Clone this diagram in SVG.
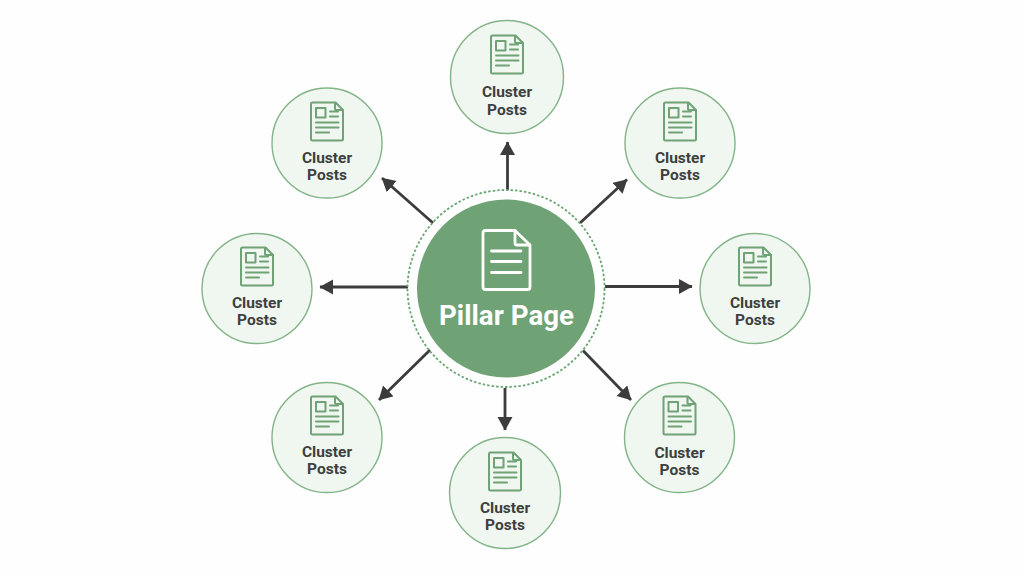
<svg xmlns="http://www.w3.org/2000/svg" width="1024" height="576" viewBox="0 0 1024 576">
<style>
.bubble{fill:#f0f6f0;stroke:#82b487;stroke-width:1.4}
.ico{fill:none;stroke:#6fa274;stroke-width:2;stroke-linejoin:round;stroke-linecap:round}
.lbl{font-family:Roboto,"Liberation Sans",sans-serif;font-weight:700;font-size:15.5px;fill:#3d3f3e;text-anchor:middle}
.conn{stroke:#3c3c3c;stroke-width:2.800;fill:none;marker-end:url(#arr)}
.big{stroke:#fff;stroke-width:2.800;fill:none;stroke-linecap:round;stroke-linejoin:round}
</style>
<defs>
<marker id="arr" markerUnits="userSpaceOnUse" markerWidth="16" markerHeight="16" refX="13" refY="7.500" orient="auto"><path d="M0 0L13.500 7.500L0 15Z" fill="#3c3c3c"/></marker>
<g id="doc">
<path class="ico" d="M-16 -27a1.500 1.500 0 0 1 1.500 -1.500H8.500L16 -21V8a1.500 1.500 0 0 1 -1.500 1.500H-14.500a1.500 1.500 0 0 1 -1.500 -1.500Z"/>
<path class="ico" d="M8 -28V-22a1 1 0 0 0 1 1H15.500"/>
<rect class="ico" x="-11" y="-23" width="9.500" height="9.500"/>
<path class="ico" d="M3 -19.500H11M3 -14.500H11M-11 -8.500H11.500M-11 -3.500H11.500M-11 1.500H2"/>
</g>
</defs>
<rect width="1024" height="576" fill="#fefefe"/>
<g id="connectors">
<path class="conn" d="M507.500 190V142"/>
<path class="conn" d="M580 223L627 179.500"/>
<path class="conn" d="M605 286.500H692"/>
<path class="conn" d="M583 350.500L631 400"/>
<path class="conn" d="M505 388V430"/>
<path class="conn" d="M430 350L379 400"/>
<path class="conn" d="M408 287H320"/>
<path class="conn" d="M433 223L382 178"/>
</g>
<g id="pillar">
<circle cx="506" cy="288.500" r="98.500" fill="none" stroke="#6aa673" stroke-width="1.800" stroke-dasharray="2.500 2"/>
<circle cx="506" cy="288.500" r="89" fill="#6fa274"/>
<path class="big" d="M483 233a2.500 2.500 0 0 1 2.500 -2.500H515L530 245V287a2.500 2.500 0 0 1 -2.500 2.500H485.500a2.500 2.500 0 0 1 -2.500 -2.500Z"/>
<path class="big" d="M515 231V243a2 2 0 0 0 2 2H529.500"/>
<path class="big" d="M491.500 251H521M491.500 261.500H521M491.500 272.500H521"/>
<text x="506.500" y="325" text-anchor="middle" font-family="Roboto,'Liberation Sans',sans-serif" font-weight="700" font-size="27.700px" fill="#fff">Pillar Page</text>
</g>
<g id="n-top"><circle class="bubble" cx="507" cy="77" r="56.500"/><use href="#doc" x="507" y="64"/><text class="lbl" x="507" y="96.500">Cluster</text><text class="lbl" x="507" y="114.500">Posts</text></g>
<g id="n-top-right"><circle class="bubble" cx="680" cy="143" r="55"/><use href="#doc" x="680" y="131"/><text class="lbl" x="680" y="162.500">Cluster</text><text class="lbl" x="680" y="179.500">Posts</text></g>
<g id="n-right"><circle class="bubble" cx="755" cy="288.500" r="55"/><use href="#doc" x="755" y="276"/><text class="lbl" x="755" y="307.500">Cluster</text><text class="lbl" x="755" y="324.500">Posts</text></g>
<g id="n-bottom-right"><circle class="bubble" cx="679.500" cy="437.500" r="55"/><use href="#doc" x="679.500" y="425"/><text class="lbl" x="679.500" y="457.500">Cluster</text><text class="lbl" x="679.500" y="474.500">Posts</text></g>
<g id="n-bottom"><circle class="bubble" cx="505" cy="493" r="55.500"/><use href="#doc" x="505" y="481"/><text class="lbl" x="505" y="512.500">Cluster</text><text class="lbl" x="505" y="529.500">Posts</text></g>
<g id="n-bottom-left"><circle class="bubble" cx="327" cy="437.500" r="55"/><use href="#doc" x="327" y="425"/><text class="lbl" x="327" y="456.500">Cluster</text><text class="lbl" x="327" y="473.500">Posts</text></g>
<g id="n-left"><circle class="bubble" cx="257" cy="288.500" r="55"/><use href="#doc" x="257" y="276"/><text class="lbl" x="257" y="307.500">Cluster</text><text class="lbl" x="257" y="324.500">Posts</text></g>
<g id="n-top-left"><circle class="bubble" cx="327" cy="143" r="55"/><use href="#doc" x="327" y="131"/><text class="lbl" x="327" y="162.500">Cluster</text><text class="lbl" x="327" y="179.500">Posts</text></g>
</svg>
